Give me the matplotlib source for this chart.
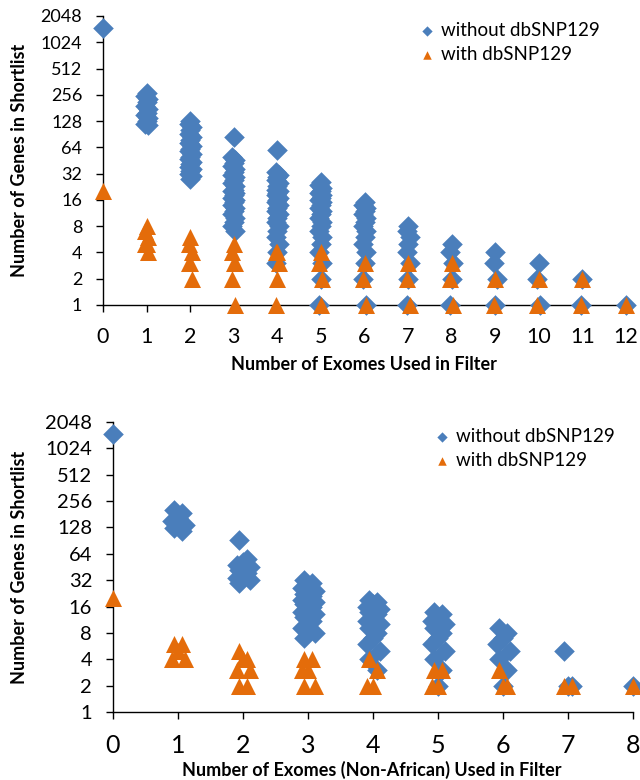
import matplotlib.pyplot as plt

plt.rcParams['font.family'] = ['Lato', 'DejaVu Sans']

# ----------------------------
# Data: gene shortlist sizes per number of exomes used in the filter
# ----------------------------

BLUE = '#4a7ebb'
ORANGE = '#e46c0a'

# panel 1: all exomes (0..12)
all_exomes = list(range(13))
all_without = [
    [1500],
    [270, 250, 230, 210, 190, 175, 160, 150, 140, 130, 120, 115],
    [128, 120, 110, 100, 92, 85, 78, 72, 66, 62, 58, 54, 50, 47, 44, 41,
     38, 36, 34, 32, 30, 28],
    [85, 50, 46, 42, 39, 36, 33, 31, 29, 27, 25, 23, 21, 20, 19, 18, 17,
     16, 15, 14, 13, 12, 11, 10, 9, 8, 7],
    [60, 33, 31, 29, 27, 25, 23, 21, 20, 19, 18, 17, 16, 15, 14, 13, 12,
     11, 10, 9, 8, 7, 6, 5, 4, 3],
    [26, 24, 22, 20, 19, 18, 17, 16, 15, 14, 13, 12, 11, 10, 9, 8, 7, 6,
     5, 4, 3, 2, 1],
    [15, 14, 13, 12, 11, 10, 9, 8, 7, 6, 5, 4, 3, 2, 1],
    [8, 7, 6, 5, 4, 3, 2, 1],
    [5, 4, 3, 2, 1],
    [4, 3, 2, 1],
    [3, 2, 1],
    [2, 1],
    [1],
]
all_with = [
    [20],
    [8, 7, 6, 5, 5, 4],
    [6, 5, 4, 3, 3, 2],
    [5, 4, 3, 3, 2, 1],
    [4, 4, 3, 2, 1],
    [4, 3, 2, 1],
    [3, 2, 1],
    [3, 2, 1],
    [3, 2, 1],
    [2, 1],
    [2, 1],
    [2, 1],
    [1],
]

# panel 2: non-African exomes only (0..8)
nonafr_exomes = list(range(9))
nonafr_without = [
    [1500],
    [200, 185, 165, 150, 135, 125, 118],
    [92, 56, 52, 48, 45, 42, 39, 36, 34, 32, 30],
    [32, 30, 28, 26, 24, 22, 21, 20, 19, 18, 17, 16, 15, 14, 13, 12, 11,
     10, 9, 8, 7],
    [19, 18, 17, 16, 15, 14, 13, 12, 11, 10, 9, 8, 7, 6, 5, 4, 3],
    [14, 13, 12, 11, 10, 9, 8, 7, 6, 5, 4, 3, 2],
    [9, 8, 7, 6, 5, 4, 3, 2],
    [5, 2, 2],
    [2],
]
nonafr_with = [
    [20],
    [6, 6, 5, 4, 4],
    [5, 4, 4, 3, 3, 2, 2],
    [4, 4, 3, 3, 2, 2],
    [4, 3, 2, 2],
    [3, 3, 2, 2],
    [3, 2, 2],
    [2, 2],
    [2],
]

y_ticks = [1, 2, 4, 8, 16, 32, 64, 128, 256, 512, 1024, 2048]


def spread(xs, groups, offsets):
    """Flatten per-column values, nudging repeated points sideways."""
    px, py = [], []
    for x, vals in zip(xs, groups):
        for i, v in enumerate(vals):
            dx = offsets[i % len(offsets)] if len(vals) > 1 else 0.0
            px.append(x + dx)
            py.append(v)
    return px, py


def draw_panel(ax, xs, without, with_, offsets, xfs, yfs):
    bx, by = spread(xs, without, offsets)
    ox, oy = spread(xs, with_, offsets)
    ax.scatter(bx, by, marker='D', s=110, color=BLUE, linewidths=0,
               clip_on=False, zorder=3, label='without dbSNP129')
    ax.scatter(ox, oy, marker='^', s=150, color=ORANGE, linewidths=0,
               clip_on=False, zorder=4, label='with dbSNP129')
    ax.set_yscale('log', base=2)
    ax.set_ylim(1, 2048)
    ax.set_xlim(xs[0], xs[-1])
    ax.set_yticks(y_ticks)
    ax.set_yticklabels([str(t) for t in y_ticks])
    ax.minorticks_off()
    ax.set_xticks(xs)
    for side in ('top', 'right'):
        ax.spines[side].set_visible(False)
    for side in ('left', 'bottom'):
        ax.spines[side].set_linewidth(1.0)
        ax.spines[side].set_zorder(2)
    ax.tick_params(axis='x', direction='out', length=5, width=1,
                   labelsize=xfs, pad=11)
    ax.tick_params(axis='y', direction='out', length=5, width=1,
                   labelsize=yfs, pad=10)


fig = plt.figure(figsize=(6.4, 7.8), dpi=100)
W, H = 640, 780

ax1 = fig.add_axes([103 / W, 1 - 305 / H, (626 - 103) / W, (305 - 16) / H])
draw_panel(ax1, all_exomes, all_without, all_with,
           [0.0, -0.035, 0.035], 15.5, 13)

ax2 = fig.add_axes([113 / W, 1 - 712 / H, (633 - 113) / W, (712 - 422) / H])
draw_panel(ax2, nonafr_exomes, nonafr_without, nonafr_with,
           [-0.06, 0.06, 0.0, -0.1, 0.1], 18, 14.5)

# legends
for ax, (lx, ly) in ((ax1, (419, 22)), (ax2, (434, 428))):
    ax.legend(loc='upper left', bbox_to_anchor=(lx / W, 1 - ly / H),
              bbox_transform=fig.transFigure, frameon=False,
              markerscale=0.5, handlelength=0.8, handletextpad=0.35,
              borderpad=0, borderaxespad=0, labelspacing=0.35, fontsize=13.5)

# axis titles
fig.text(20 / W, 1 - 160 / H, 'Number of Genes in Shortlist', rotation=90,
         ha='center', va='center', fontsize=13, fontweight='bold')
fig.text(364 / W, 1 - 364 / H, 'Number of Exomes Used in Filter',
         ha='center', va='center', fontsize=13, fontweight='bold')
fig.text(20 / W, 1 - 567 / H, 'Number of Genes in Shortlist', rotation=90,
         ha='center', va='center', fontsize=13, fontweight='bold')
fig.text(372 / W, 1 - 770 / H, 'Number of Exomes (Non-African) Used in Filter',
         ha='center', va='center', fontsize=13, fontweight='bold')

fig.savefig('out.png', dpi=100)
